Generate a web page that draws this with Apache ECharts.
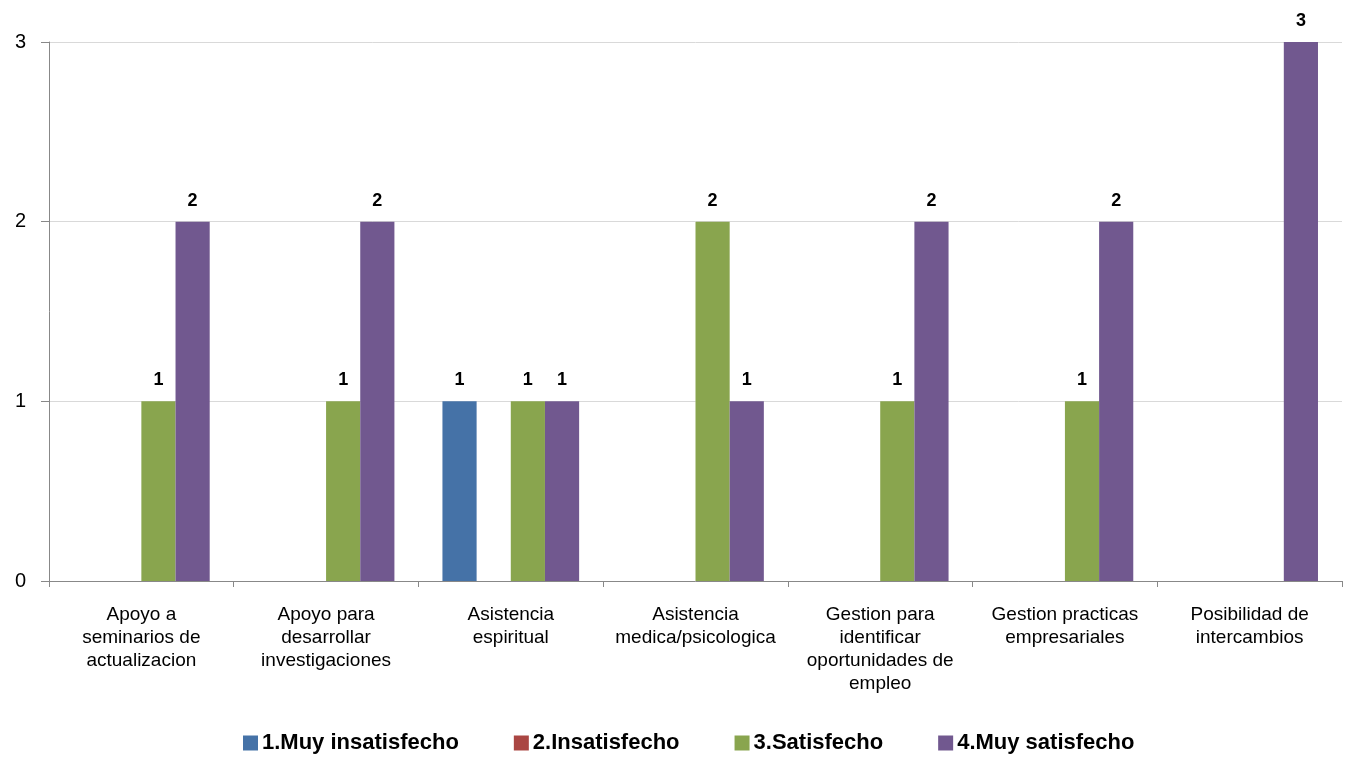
<!DOCTYPE html>
<html>
<head>
<meta charset="utf-8">
<script src="https://cdn.jsdelivr.net/npm/echarts@6/dist/echarts.min.js"></script>
<style>html,body{margin:0;padding:0;background:#fff}#c{width:1351px;height:760px}</style>
</head>
<body>
<div id="c"></div>
<script>
const categories = [
  "Apoyo a\nseminarios de\nactualizacion",
  "Apoyo para\ndesarrollar\ninvestigaciones",
  "Asistencia\nespiritual",
  "Asistencia\nmedica/psicologica",
  "Gestion para\nidentificar\noportunidades de\nempleo",
  "Gestion practicas\nempresariales",
  "Posibilidad de\nintercambios"
];
const seriesNames = ["1.Muy insatisfecho", "2.Insatisfecho", "3.Satisfecho", "4.Muy satisfecho"];
const muyInsatisfecho = [0, 0, 1, 0, 0, 0, 0];
const insatisfecho = [0, 0, 0, 0, 0, 0, 0];
const satisfecho = [1, 1, 1, 2, 1, 1, 0];
const muySatisfecho = [2, 2, 1, 1, 2, 2, 3];
const yTicks = [0, 1, 2, 3];
const colors = ["#4572A7", "#AA4643", "#89A54E", "#71588F"];

const chart = echarts.init(document.getElementById('c'), null, {renderer: 'canvas'});
const font = "Liberation Sans, Arial, sans-serif";
const allData = [muyInsatisfecho, insatisfecho, satisfecho, muySatisfecho];
chart.setOption({
  animation: false,
  color: colors,
  textStyle: {fontFamily: font},
  grid: {left: 49, right: 9, top: 42, bottom: 179, containLabel: false},
  legend: {
    bottom: 1, left: 238,
    icon: 'rect', itemWidth: 15, itemHeight: 15, itemGap: 55,
    textStyle: {fontFamily: font, fontSize: 22, fontWeight: 'bold', color: '#000', padding: [0, 0, 0, -1]},
    data: seriesNames
  },
  xAxis: {
    type: 'category', data: categories,
    axisLine: {lineStyle: {color: '#888', width: 1}},
    axisTick: {show: true, length: 6, lineStyle: {color: '#888'}},
    axisLabel: {fontFamily: font, fontSize: 19, color: '#000', lineHeight: 23, margin: 22, interval: 0}
  },
  yAxis: {
    type: 'value', min: yTicks[0], max: yTicks[yTicks.length - 1], interval: 1,
    axisLine: {show: true, lineStyle: {color: '#888'}},
    axisTick: {show: true, length: 8, lineStyle: {color: '#888'}},
    splitLine: {lineStyle: {color: '#d9d9d9', width: 1}},
    axisLabel: {fontFamily: font, fontSize: 20, color: '#000', margin: 23}
  },
  series: seriesNames.map((n, i) => ({
    name: n, type: 'bar', data: allData[i],
    barGap: '0%', barCategoryGap: '26%',
    label: {
      show: true, position: 'top', distance: 12,
      fontFamily: font, fontSize: 18, fontWeight: 'bold', color: '#000',
      formatter: p => p.value ? String(p.value) : ''
    }
  }))
});
</script>
</body>
</html>
